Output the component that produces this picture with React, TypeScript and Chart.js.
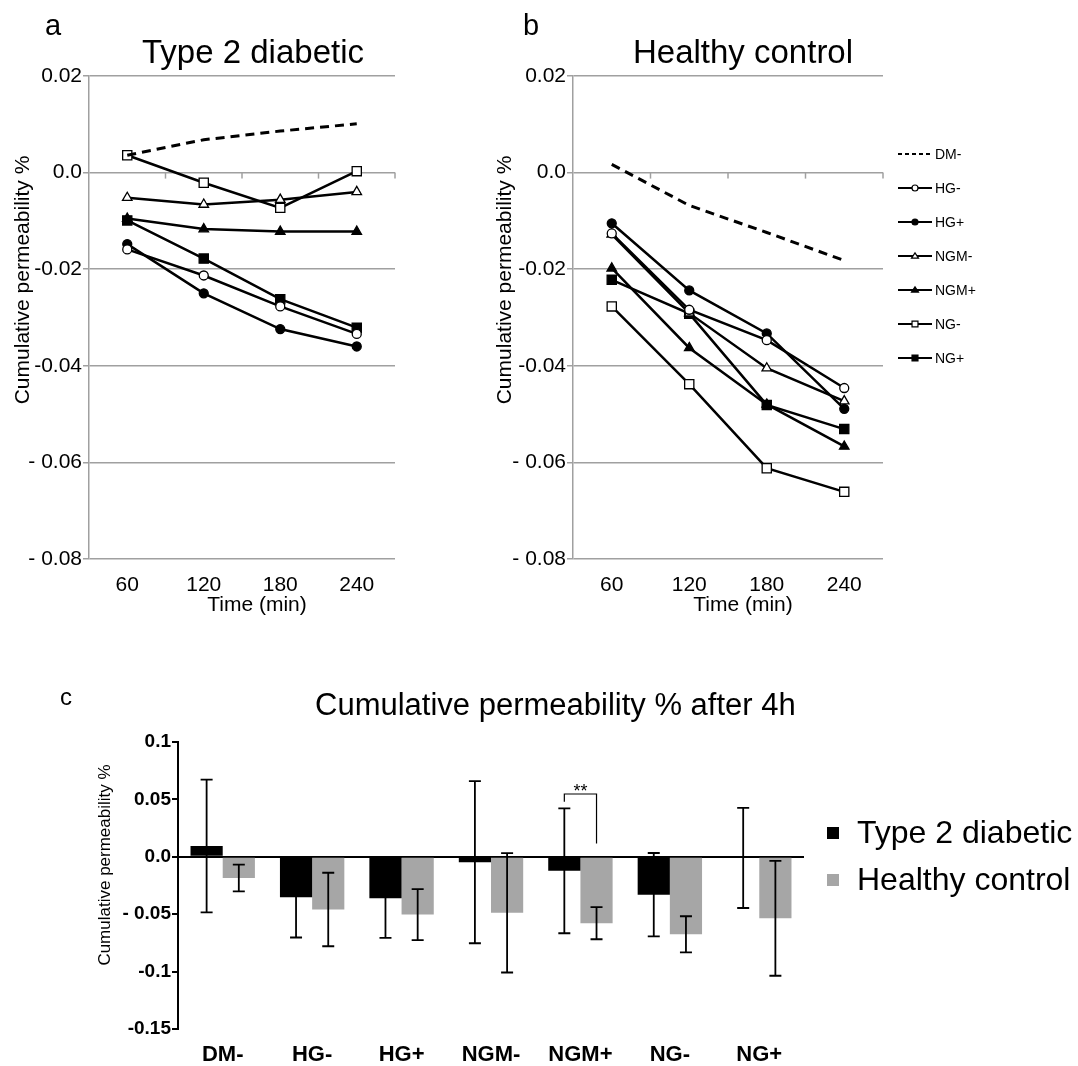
import { useEffect, useRef } from 'react';
import { Chart, registerables } from 'chart.js';

Chart.register(...registerables);

const FONT = "'Liberation Sans', Arial, Helvetica, sans-serif";
Chart.defaults.font.family = FONT;
Chart.defaults.color = '#000';

// ---------------- data ----------------
const timeLabels = ['60', '120', '180', '240'];
const seriesNames = ['DM-', 'HG-', 'HG+', 'NGM-', 'NGM+', 'NG-', 'NG+'];

// Panel a: Type 2 diabetic
const t2dDM = [0.0036, 0.0068, 0.0086, 0.0101];
const t2dHGminus = [-0.0159, -0.0213, -0.0277, -0.0334];
const t2dHGplus = [-0.0148, -0.025, -0.0324, -0.036];
const t2dNGMminus = [-0.0052, -0.0066, -0.0056, -0.004];
const t2dNGMplus = [-0.0095, -0.0117, -0.0122, -0.0122];
const t2dNGminus = [0.0036, -0.0021, -0.0073, 0.0003];
const t2dNGplus = [-0.0099, -0.0178, -0.0262, -0.0321];

// Panel b: Healthy control
const hcDM = [0.0017, -0.0068, -0.0124, -0.0182];
const hcHGminus = [-0.0126, -0.0284, -0.0347, -0.0446];
const hcHGplus = [-0.0105, -0.0244, -0.0333, -0.0489];
const hcNGMminus = [-0.0128, -0.0291, -0.0405, -0.0473];
const hcNGMplus = [-0.0198, -0.0363, -0.048, -0.0567];
const hcNGminus = [-0.0277, -0.0438, -0.0612, -0.0661];
const hcNGplus = [-0.0222, -0.0292, -0.0481, -0.0531];

const lineTickValues = [0.02, 0, -0.02, -0.04, -0.06, -0.08];
const lineTickLabels = ['0.02', '0.0', '-0.02', '-0.04', '- 0.06', '- 0.08'];

// Panel c: after 4h
const barCategories = ['DM-', 'HG-', 'HG+', 'NGM-', 'NGM+', 'NG-', 'NG+'];
const barGroupNames = ['Type 2 diabetic', 'Healthy control'];
const t2dMeans = [0.0094, -0.0353, -0.0362, -0.0047, -0.0122, -0.033, -0.001];
const t2dErrors = [0.0578, 0.035, 0.0344, 0.0706, 0.0544, 0.0363, 0.0436];
const hcMeans = [-0.0185, -0.0459, -0.0503, -0.0488, -0.0578, -0.0675, -0.0536];
const hcErrors = [0.0117, 0.032, 0.0222, 0.052, 0.014, 0.0157, 0.05];
const barTickValues = [0.1, 0.05, 0, -0.05, -0.1, -0.15];
const barTickLabels = ['0.1', '0.05', '0.0', '- 0.05', '-0.1', '-0.15'];
const sigCategory = 'NGM+';
const sigText = '**';
const sigBracket = [0.0547, 0.048, 0.0115]; // top, left end, right end

// ---------------- styles ----------------
type Marker = { dash?: boolean; style: string; filled: boolean; r: number; lr: number };
const markerStyles: Marker[] = [
  { dash: true, style: 'none', filled: false, r: 0, lr: 0 },
  { style: 'circle', filled: false, r: 4.5, lr: 3 },
  { style: 'circle', filled: true, r: 4.5, lr: 3 },
  { style: 'triangle', filled: false, r: 5.5, lr: 3.5 },
  { style: 'triangle', filled: true, r: 5.5, lr: 3.5 },
  { style: 'rect', filled: false, r: 6.5, lr: 4.2 },
  { style: 'rect', filled: true, r: 6.5, lr: 4.2 },
];
const GRID = '#a0a0a0';

function drawMarker(ctx: CanvasRenderingContext2D, m: Marker, x: number, y: number, r: number) {
  if (m.style === 'none') return;
  ctx.beginPath();
  if (m.style === 'circle') ctx.arc(x, y, r, 0, Math.PI * 2);
  else if (m.style === 'rect') {
    const s = r * Math.SQRT1_2;
    ctx.rect(x - s, y - s, 2 * s, 2 * s);
  } else {
    const h = r * 1.5;
    const w = r * Math.sqrt(3) / 2 * 1.15;
    ctx.moveTo(x, y - h * 0.6);
    ctx.lineTo(x + w, y + h * 0.4);
    ctx.lineTo(x - w, y + h * 0.4);
    ctx.closePath();
  }
  ctx.fillStyle = m.filled ? '#000' : '#fff';
  ctx.fill();
  ctx.lineWidth = 1.2;
  ctx.strokeStyle = '#000';
  ctx.stroke();
}

type TextItem = { text: string; x: number; y: number; font: string; align?: CanvasTextAlign; baseline?: CanvasTextBaseline; rotate?: boolean };

function textsPlugin(id: string, origin: [number, number], items: TextItem[]) {
  return {
    id,
    afterDraw(chart: any) {
      const ctx: CanvasRenderingContext2D = chart.ctx;
      for (const t of items) {
        ctx.save();
        ctx.font = t.font;
        ctx.fillStyle = '#000';
        ctx.textAlign = t.align ?? 'center';
        ctx.textBaseline = t.baseline ?? 'alphabetic';
        ctx.translate(t.x - origin[0], t.y - origin[1]);
        if (t.rotate) ctx.rotate(-Math.PI / 2);
        ctx.fillText(t.text, 0, 0);
        ctx.restore();
      }
    },
  };
}

const zeroTickPlugin = {
  id: 'zeroTicks',
  beforeDatasetsDraw(chart: any) {
    const { ctx, scales } = chart;
    const y0 = scales.y.getPixelForValue(0);
    ctx.save();
    ctx.strokeStyle = GRID;
    ctx.lineWidth = 1.5;
    for (let i = 0; i < timeLabels.length; i++) {
      const px = scales.x.getPixelForValue(i + 0.5);
      ctx.beginPath();
      ctx.moveTo(px, y0);
      ctx.lineTo(px, y0 + 6);
      ctx.stroke();
    }
    ctx.restore();
  },
};

function seriesLegendPlugin(origin: [number, number]) {
  return {
    id: 'seriesLegend',
    afterDraw(chart: any) {
      const ctx: CanvasRenderingContext2D = chart.ctx;
      seriesNames.forEach((name, i) => {
        const m = markerStyles[i];
        const y = 154 + i * 34 - origin[1];
        const x0 = 898 - origin[0];
        const x1 = 932 - origin[0];
        ctx.save();
        ctx.strokeStyle = '#000';
        ctx.lineWidth = 2;
        ctx.setLineDash(m.dash ? [4, 3] : []);
        ctx.beginPath();
        ctx.moveTo(x0, y);
        ctx.lineTo(x1, y);
        ctx.stroke();
        ctx.setLineDash([]);
        drawMarker(ctx, m, (x0 + x1) / 2, y, m.lr);
        ctx.font = `14px ${FONT}`;
        ctx.fillStyle = '#000';
        ctx.textAlign = 'left';
        ctx.textBaseline = 'middle';
        ctx.fillText(name, x1 + 3, y + 1);
        ctx.restore();
      });
    },
  };
}

function tickLabelFor(values: number[], labels: string[], v: number) {
  const i = values.findIndex((t) => Math.abs(t - v) < 1e-9);
  return i >= 0 ? labels[i] : '';
}

function lineConfig(series: number[][], width: number, origin: [number, number], texts: TextItem[], extra: any[]) {
  return {
    type: 'line' as const,
    data: {
      labels: timeLabels,
      datasets: series.map((vals, i) => {
        const m = markerStyles[i];
        return {
          label: seriesNames[i],
          data: vals,
          borderColor: '#000',
          borderWidth: m.dash ? 3 : 2.5,
          borderDash: m.dash ? [9, 6] : [],
          pointStyle: m.style === 'none' ? 'circle' : m.style,
          pointRadius: m.dash ? 0 : m.r,
          pointHoverRadius: m.dash ? 0 : m.r,
          pointBackgroundColor: m.filled ? '#000' : '#fff',
          pointBorderColor: '#000',
          pointBorderWidth: 1.3,
          tension: 0,
          fill: false,
        };
      }),
    },
    options: {
      animation: false as const,
      responsive: false,
      layout: { padding: { top: 76, right: width, left: 0, bottom: 0 } },
      plugins: { legend: { display: false }, tooltip: { enabled: false }, title: { display: false } },
      scales: {
        x: {
          type: 'category' as const,
          offset: true,
          grid: { display: false },
          border: { display: false },
          ticks: { font: { size: 21 }, padding: 6, color: '#000', maxRotation: 0 },
          afterFit(scale: any) { scale.height = 61; },
        },
        y: {
          min: -0.08,
          max: 0.02,
          afterBuildTicks(scale: any) { scale.ticks = lineTickValues.map((v) => ({ value: v })); },
          ticks: {
            font: { size: 21 },
            padding: 1,
            color: '#000',
            callback: (v: any) => tickLabelFor(lineTickValues, lineTickLabels, Number(v)),
          },
          grid: { color: GRID, lineWidth: 1.5, drawTicks: true, tickLength: 6, tickColor: GRID },
          border: { display: true, color: GRID, width: 1.5 },
          afterFit(scale: any) { scale.width = 89; },
        },
      },
    },
    plugins: [zeroTickPlugin, textsPlugin('texts', origin, texts), ...extra],
  };
}

const errorBarPlugin = {
  id: 'errorBars',
  afterDatasetsDraw(chart: any) {
    const { ctx, scales } = chart;
    const groups = [
      { means: t2dMeans, errs: t2dErrors },
      { means: hcMeans, errs: hcErrors },
    ];
    ctx.save();
    ctx.strokeStyle = '#000';
    ctx.lineWidth = 1.8;
    groups.forEach((g, di) => {
      const meta = chart.getDatasetMeta(di);
      meta.data.forEach((bar: any, j: number) => {
        const x = bar.x;
        const yt = scales.y.getPixelForValue(g.means[j] + g.errs[j]);
        const yb = scales.y.getPixelForValue(g.means[j] - g.errs[j]);
        ctx.beginPath();
        ctx.moveTo(x, yt);
        ctx.lineTo(x, yb);
        ctx.moveTo(x - 6, yt);
        ctx.lineTo(x + 6, yt);
        ctx.moveTo(x - 6, yb);
        ctx.lineTo(x + 6, yb);
        ctx.stroke();
      });
    });
    // significance bracket
    const k = barCategories.indexOf(sigCategory);
    const xl = chart.getDatasetMeta(0).data[k].x;
    const xr = chart.getDatasetMeta(1).data[k].x;
    const yTop = scales.y.getPixelForValue(sigBracket[0]);
    const yL = scales.y.getPixelForValue(sigBracket[1]);
    const yR = scales.y.getPixelForValue(sigBracket[2]);
    ctx.lineWidth = 1.2;
    ctx.beginPath();
    ctx.moveTo(xl, yL);
    ctx.lineTo(xl, yTop);
    ctx.lineTo(xr, yTop);
    ctx.lineTo(xr, yR);
    ctx.stroke();
    ctx.font = `18px ${FONT}`;
    ctx.fillStyle = '#000';
    ctx.textAlign = 'center';
    ctx.textBaseline = 'alphabetic';
    ctx.fillText(sigText, (xl + xr) / 2, yTop + 3);
    ctx.restore();
  },
};

function barLegendPlugin(origin: [number, number]) {
  return {
    id: 'barLegend',
    afterDraw(chart: any) {
      const ctx: CanvasRenderingContext2D = chart.ctx;
      const colors = ['#000', '#a6a6a6'];
      barGroupNames.forEach((name, i) => {
        const y = 833 + i * 47 - origin[1];
        ctx.save();
        ctx.fillStyle = colors[i];
        ctx.fillRect(827 - origin[0], y - 6, 12, 12);
        ctx.fillStyle = '#000';
        ctx.font = `32px ${FONT}`;
        ctx.textAlign = 'left';
        ctx.textBaseline = 'middle';
        ctx.fillText(name, 857 - origin[0], y + 1);
        ctx.restore();
      });
    },
  };
}

export default function App() {
  const aRef = useRef<HTMLCanvasElement>(null);
  const bRef = useRef<HTMLCanvasElement>(null);
  const cRef = useRef<HTMLCanvasElement>(null);

  useEffect(() => {
    document.body.style.margin = '0';
    const yTitle = 'Cumulative permeability %';
    const aOrigin: [number, number] = [0, 0];
    const bOrigin: [number, number] = [484, 0];
    const cOrigin: [number, number] = [0, 640];

    const chartA = new Chart(
      aRef.current!,
      lineConfig(
        [t2dDM, t2dHGminus, t2dHGplus, t2dNGMminus, t2dNGMplus, t2dNGminus, t2dNGplus],
        45,
        aOrigin,
        [
          { text: 'a', x: 53, y: 35, font: `29px ${FONT}` },
          { text: 'Type 2 diabetic', x: 253, y: 63, font: `33px ${FONT}` },
          { text: yTitle, x: 23, y: 280, font: `21px ${FONT}`, rotate: true, baseline: 'middle' },
          { text: 'Time (min)', x: 257, y: 611, font: `21px ${FONT}` },
        ],
        []
      ) as any
    );
    const chartB = new Chart(
      bRef.current!,
      lineConfig(
        [hcDM, hcHGminus, hcHGplus, hcNGMminus, hcNGMplus, hcNGminus, hcNGplus],
        195,
        bOrigin,
        [
          { text: 'b', x: 531, y: 35, font: `29px ${FONT}` },
          { text: 'Healthy control', x: 743, y: 63, font: `33px ${FONT}` },
          { text: yTitle, x: 505, y: 280, font: `21px ${FONT}`, rotate: true, baseline: 'middle' },
          { text: 'Time (min)', x: 743, y: 611, font: `21px ${FONT}` },
        ],
        [seriesLegendPlugin(bOrigin)]
      ) as any
    );

    const chartC = new Chart(cRef.current!, {
      type: 'bar',
      data: {
        labels: barCategories,
        datasets: [
          { label: barGroupNames[0], data: t2dMeans, backgroundColor: '#000', borderWidth: 0, categoryPercentage: 0.72, barPercentage: 1 },
          { label: barGroupNames[1], data: hcMeans, backgroundColor: '#a6a6a6', borderWidth: 0, categoryPercentage: 0.72, barPercentage: 1 },
        ],
      },
      options: {
        animation: false,
        responsive: false,
        layout: { padding: { top: 102, right: 274, left: 0, bottom: 0 } },
        plugins: { legend: { display: false }, tooltip: { enabled: false } },
        scales: {
          x: {
            type: 'category',
            offset: true,
            grid: { display: false },
            border: { display: false },
            ticks: { font: { size: 22, weight: 'bold' }, padding: 5, color: '#000', maxRotation: 0 },
            afterFit(scale: any) { scale.height = 37; },
          },
          y: {
            min: -0.15,
            max: 0.1,
            afterBuildTicks(scale: any) { scale.ticks = barTickValues.map((v) => ({ value: v })); },
            ticks: {
              font: { size: 19, weight: 'bold' },
              padding: 1,
              color: '#000',
              callback: (v: any) => tickLabelFor(barTickValues, barTickLabels, Number(v)),
            },
            grid: {
              color: (ctx: any) => (ctx.tick && Math.abs(ctx.tick.value) < 1e-9 ? '#000' : 'rgba(0,0,0,0)'),
              lineWidth: 2,
              drawTicks: true,
              tickLength: 6,
              tickColor: '#000',
              tickWidth: 2,
            },
            border: { display: true, color: '#000', width: 2 },
            afterFit(scale: any) { scale.width = 178; },
          },
        },
      } as any,
      plugins: [
        errorBarPlugin,
        barLegendPlugin(cOrigin),
        textsPlugin('textsC', cOrigin, [
          { text: 'c', x: 66, y: 705, font: `24px ${FONT}` },
          { text: 'Cumulative permeability % after 4h', x: 315, y: 715, font: `31px ${FONT}`, align: 'left' },
          { text: 'Cumulative permeability %', x: 105, y: 865, font: `17px ${FONT}`, rotate: true, baseline: 'middle' },
        ]),
      ],
    } as any);

    return () => {
      chartA.destroy();
      chartB.destroy();
      chartC.destroy();
    };
  }, []);

  return (
    <div style={{ position: 'relative', width: 1078, height: 1066, background: '#fff', overflow: 'hidden' }}>
      <canvas ref={aRef} width={440} height={620} style={{ position: 'absolute', left: 0, top: 0 }} />
      <canvas ref={bRef} width={594} height={620} style={{ position: 'absolute', left: 484, top: 0 }} />
      <canvas ref={cRef} width={1078} height={426} style={{ position: 'absolute', left: 0, top: 640 }} />
    </div>
  );
}
